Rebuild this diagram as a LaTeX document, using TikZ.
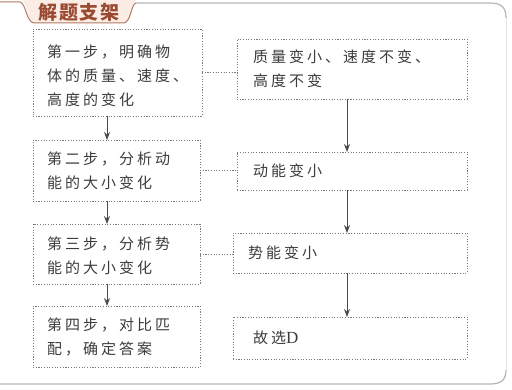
\documentclass[tikz,border=0pt]{standalone}
\usepackage{fontspec}
\newfontfamily\cjk[LetterSpace=20]{Noto Sans CJK SC}
\newfontfamily\cjkt[LetterSpace=8]{Noto Sans CJK SC}
\newfontfamily\latserif{Liberation Serif}
\usetikzlibrary{arrows.meta}
\definecolor{boxc}{HTML}{7A7A7A}
\definecolor{txtc}{HTML}{3C3C3C}
\definecolor{arrc}{HTML}{4A4A4A}
\definecolor{tabfill}{HTML}{FBEDE6}
\definecolor{tabline}{HTML}{B07A64}
\definecolor{tabtext}{HTML}{9A4A30}
\definecolor{framec}{HTML}{B5B5B5}
\begin{document}
\begin{tikzpicture}[x=1pt,y=-1pt,
 stepbox/.style={draw=boxc, line width=0.8pt, dash pattern=on 1.1pt off 1.6pt, anchor=north west, inner sep=0pt, outer sep=0pt},
 txt/.style={anchor=west, inner sep=0pt, align=left, text=txtc, font=\cjk\fontsize{15pt}{24pt}\selectfont},
 link/.style={draw=boxc, line width=0.8pt, dash pattern=on 1.1pt off 1.6pt},
 flow/.style={draw=arrc, line width=0.9pt, -{Stealth[length=8pt,width=6pt]}}]
\useasboundingbox (0,0) rectangle (512,390);
% frame
\draw[framec, line width=1.2pt] (136,3) -- (490,3) .. controls (502,3) and (506,8) .. (506,18);
\draw[framec!35, line width=1pt] (506,18) -- (506,370);
\draw[framec, line width=1.2pt] (506,370) .. controls (506,380) and (501,384) .. (490,384) -- (0,384);
% tab
\fill[tabfill] (22,0) .. controls (27,2) and (27,22) .. (34,23) -- (124,23) .. controls (131,22) and (131,3) .. (136,0) -- cycle;
\draw[tabline, line width=1pt] (0,2) -- (20,2) .. controls (26,3) and (26,22) .. (34,23) -- (124,23) .. controls (131,22) and (131,4) .. (136,3);
\node[font=\cjkt\bfseries\fontsize{19pt}{19pt}\selectfont, text=tabtext, inner sep=0pt] (title) at (79,12) {解题支架};
% boxes
\node[stepbox, minimum width=169pt, minimum height=87pt] (L1) at (33,29) {};
\node[stepbox, minimum width=167pt, minimum height=61pt] (L2) at (33,140) {};
\node[stepbox, minimum width=167pt, minimum height=60pt] (L3) at (33,224) {};
\node[stepbox, minimum width=167pt, minimum height=61pt] (L4) at (33,306) {};
\node[stepbox, minimum width=230pt, minimum height=60pt] (R1) at (237,39) {};
\node[stepbox, minimum width=230pt, minimum height=38pt] (R2) at (237,152) {};
\node[stepbox, minimum width=234pt, minimum height=40pt] (R3) at (233,233) {};
\node[stepbox, minimum width=234pt, minimum height=42pt] (R4) at (233,317) {};
% texts
\node[txt] (L1t) at ([xshift=14pt,yshift=-3pt]L1.west) {第一步，明确物\\体的质量、速度、\\高度的变化};
\node[txt] (L2t) at ([xshift=14pt]L2.west) {第二步，分析动\\能的大小变化};
\node[txt] (L3t) at ([xshift=14pt,yshift=-1.5pt]L3.west) {第三步，分析势\\能的大小变化};
\node[txt] (L4t) at ([xshift=14pt]L4.west) {第四步，对比匹\\配，确定答案};
\node[txt] (R1t) at ([xshift=16pt]R1.west) {质量变小、速度不变、\\高度不变};
\node[txt] (R2t) at ([xshift=16pt]R2.west) {动能变小};
\node[txt] (R3t) at ([xshift=15pt]R3.west) {势能变小};
\node[txt] (R4t) at ([xshift=20pt]R4.west) {故选{\latserif\fontsize{17pt}{24pt}\selectfont D}};
% links
\draw[link] (L1.east) -- (L1.east -| R1.west);
\draw[link] (L2.east) -- (L2.east -| R2.west);
\draw[link] (L3.east) -- (L3.east -| R3.west);
% arrows
\coordinate (lx) at (107,0);
\coordinate (rx) at (347,0);
\draw[flow] (L1.south -| lx) -- (L2.north -| lx);
\draw[flow] (L2.south -| lx) -- (L3.north -| lx);
\draw[flow] (L3.south -| lx) -- (L4.north -| lx);
\draw[flow] (R1.south -| rx) -- (R2.north -| rx);
\draw[flow] (R2.south -| rx) -- (R3.north -| rx);
\draw[flow] (R3.south -| rx) -- (R4.north -| rx);
\end{tikzpicture}
\end{document}
